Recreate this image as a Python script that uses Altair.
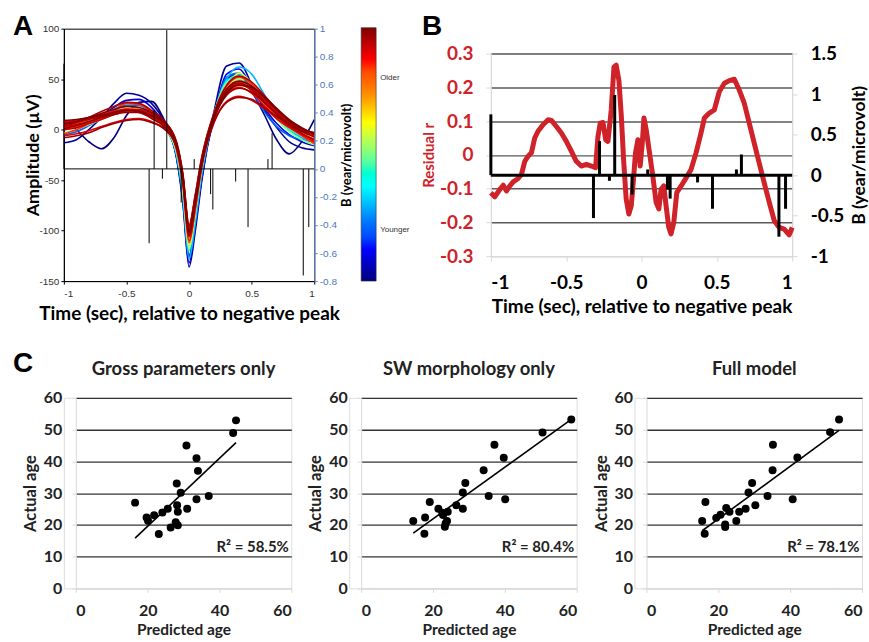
import altair as alt
import pandas as pd

# ---------------- Panel A : waveforms ----------------
A_TIMES = [-1.0, -0.9, -0.8, -0.7, -0.6, -0.5, -0.4, -0.3, -0.2, -0.1, -0.05, 0.0,
           0.05, 0.1, 0.2, 0.3, 0.4, 0.5, 0.6, 0.7, 0.8, 0.9, 1.0]
WAVE_AGES = [15, 16, 19, 23, 27, 31, 35, 38, 42, 47, 48, 49, 50, 51, 52, 53, 54, 55, 51, 53, 55, 49, 54, 52]
WAVE_01 = [10, 0, -12, -19, -8, 14, 27, 28, 10, -22, -62, -125, -88, -45, 12, 50, 55, 38, 15, -10, -24, -12, 10]
WAVE_02 = [-13, -10, 0, 12, 26, 36, 34, 26, 8, -28, -72, -136, -100, -52, 18, 63, 66, 45, 20, 2, -12, -18, -20]
WAVE_03 = [5, 3, 6, 13, 22, 29, 30, 22, 5, -28, -70, -132, -95, -50, 14, 55, 60, 42, 22, 6, -5, -12, -16]
WAVE_04 = [-5, -2, 4, 11, 19, 24, 24, 17, 3, -26, -66, -126, -90, -46, 14, 52, 56, 38, 18, 3, -6, -10, -12]
WAVE_05 = [0, 3, 8, 14, 20, 26, 25, 18, 5, -25, -65, -128, -92, -45, 15, 50, 62, 55, 35, 15, 0, -8, -12]
WAVE_06 = [3, 5, 9, 14, 19, 23, 22, 15, 3, -24, -62, -120, -85, -40, 16, 48, 54, 44, 28, 12, 0, -6, -10]
WAVE_07 = [-3, 0, 5, 10, 15, 19, 20, 14, 4, -20, -56, -115, -80, -38, 16, 46, 50, 40, 25, 10, -2, -10, -15]
WAVE_08 = [6, 7, 9, 12, 16, 20, 18, 12, 2, -22, -58, -118, -82, -40, 12, 40, 56, 46, 30, 14, 2, -4, -6]
WAVE_09 = [2, 5, 9, 13, 17, 20, 19, 14, 5, -18, -52, -108, -76, -36, 14, 42, 48, 40, 27, 13, 2, -5, -10]
WAVE_10 = [4, 6, 10, 14, 18, 21, 20, 15, 6, -17, -50, -105, -72, -34, 14, 40, 46, 39, 26, 13, 3, -4, -9]
WAVE_11 = [0, 3, 7, 11, 15, 18, 18, 13, 5, -16, -48, -100, -70, -32, 12, 36, 44, 40, 30, 17, 6, -2, -6]
WAVE_12 = [-4, 0, 6, 12, 19, 26, 25, 18, 6, -20, -54, -112, -79, -37, 14, 43, 52, 45, 30, 15, 3, -6, -14]
WAVE_13 = [8, 9, 11, 13, 16, 19, 17, 12, 4, -19, -52, -110, -78, -38, 10, 35, 42, 36, 24, 11, 2, -5, -12]
WAVE_14 = [-6, -4, -1, 3, 7, 10, 11, 8, 1, -15, -46, -96, -66, -30, 8, 28, 33, 29, 21, 11, 3, -4, -10]
WAVE_15 = [3, 5, 8, 12, 16, 19, 19, 14, 6, -14, -45, -98, -68, -31, 14, 38, 45, 41, 31, 19, 8, 0, -5]
WAVE_16 = [5, 7, 10, 13, 17, 20, 19, 13, 5, -18, -50, -104, -73, -35, 12, 38, 46, 40, 28, 15, 4, -4, -10]
WAVE_17 = [1, 4, 8, 12, 15, 17, 17, 11, 3, -17, -48, -102, -70, -33, 11, 34, 41, 37, 27, 16, 6, -1, -4]
WAVE_18 = [6, 8, 12, 16, 20, 23, 22, 17, 8, -15, -47, -100, -69, -32, 15, 40, 48, 43, 32, 20, 9, 1, -3]
WAVE_19 = [7, 9, 12, 15, 18, 20, 18, 13, 6, -16, -49, -103, -71, -34, 13, 39, 45, 39, 27, 15, 5, -2, -7]
WAVE_20 = [3, 7, 12, 18, 23, 27, 26, 19, 9, -13, -44, -95, -65, -29, 17, 44, 53, 47, 34, 20, 8, 1, -3]
WAVE_21 = [9, 10, 12, 14, 17, 19, 18, 14, 7, -15, -47, -101, -71, -34, 12, 36, 44, 42, 33, 21, 10, 2, -4]
WAVE_22 = [2, 4, 7, 11, 15, 18, 19, 15, 7, -14, -46, -99, -69, -32, 13, 37, 47, 44, 33, 20, 8, 0, -6]
WAVE_23 = [-8, -6, -3, 2, 6, 9, 10, 7, 1, -18, -50, -106, -74, -36, 7, 27, 32, 30, 22, 13, 5, -2, -7]
WAVE_24 = [0, 2, 6, 10, 15, 19, 20, 16, 8, -12, -43, -94, -64, -28, 16, 40, 46, 41, 30, 18, 7, 0, -5]
WAVES = [WAVE_01, WAVE_02, WAVE_03, WAVE_04, WAVE_05, WAVE_06, WAVE_07, WAVE_08, WAVE_09,
         WAVE_10, WAVE_11, WAVE_12, WAVE_13, WAVE_14, WAVE_15, WAVE_16, WAVE_17, WAVE_18,
         WAVE_19, WAVE_20, WAVE_21, WAVE_22, WAVE_23, WAVE_24]

# regression coefficients (stems), shared by panels A and B
STEM_T = [-1.0, -0.319, -0.279, -0.213, -0.178, -0.063, 0.041, 0.172, 0.19, 0.372, 0.471, 0.63, 0.663, 0.912, 0.956]
STEM_B = [0.75, -0.53, 0.42, -0.07, 0.99, -0.24, 0.07, -0.18, -0.29, -0.09, -0.415, 0.07, 0.255, -0.76, -0.415]

# ---------------- Panel B : residual r ----------------
R_T = [-1.0, -0.974, -0.94, -0.918, -0.896, -0.874, -0.852, -0.819, -0.797, -0.775, -0.753, -0.731,
       -0.709, -0.687, -0.654, -0.62, -0.598, -0.565, -0.532, -0.499, -0.466, -0.433, -0.4, -0.366,
       -0.333, -0.305, -0.289, -0.274, -0.256, -0.238, -0.223, -0.201, -0.183, -0.168, -0.15, -0.134,
       -0.119, -0.102, -0.084, -0.068, -0.053, -0.04, -0.024, -0.009, 0.005, 0.016, 0.031, 0.053,
       0.075, 0.097, 0.115, 0.13, 0.148, 0.163, 0.181, 0.196, 0.214, 0.234, 0.263, 0.296, 0.329,
       0.362, 0.395, 0.417, 0.45, 0.483, 0.516, 0.55, 0.583, 0.616, 0.649, 0.682, 0.715, 0.748,
       0.781, 0.814, 0.848, 0.881, 0.914, 0.947, 0.98, 1.0]
R_VAL = [-0.112, -0.124, -0.102, -0.09, -0.107, -0.092, -0.08, -0.07, -0.058, -0.019, -0.004, 0.006,
         0.05, 0.07, 0.089, 0.104, 0.102, 0.084, 0.065, 0.04, 0.011, -0.019, -0.033, -0.028,
         -0.033, -0.038, 0.055, 0.094, 0.096, 0.045, 0.04, 0.133, 0.26, 0.266, 0.22, 0.114,
         -0.014, -0.13, -0.175, -0.15, -0.07, 0.006, 0.045, -0.033, 0.035, 0.109, 0.075, 0.006,
         -0.063, -0.141, -0.16, -0.102, -0.092, -0.151, -0.215, -0.234, -0.2, -0.112, -0.092, -0.068, -0.043,
         0.006, 0.065, 0.109, 0.124, 0.133, 0.187, 0.212, 0.22, 0.224, 0.192, 0.153, 0.094, 0.035,
         -0.024, -0.082, -0.141, -0.195, -0.215, -0.22, -0.237, -0.215]

# ---------------- Panel C : predicted vs actual age ----------------
C1_PRED = [16.5, 19.7, 20.1, 21.8, 23.1, 24.1, 25.6, 26.4, 27.8, 28.4, 28.1, 28.2, 28.4, 29.2, 31.0, 30.8, 33.6, 33.6, 34.0, 37.0, 43.8, 44.6]
C1_ACT = [27.0, 22.3, 21.3, 23.0, 17.1, 23.9, 25.1, 19.2, 20.8, 19.9, 33.0, 26.2, 24.1, 30.1, 25.1, 45.0, 28.1, 41.0, 37.0, 29.1, 48.9, 52.9]
C2_PRED = [14.5, 17.8, 17.6, 19.1, 21.5, 22.6, 22.8, 24.1, 23.9, 23.3, 23.5, 26.5, 28.3, 28.3, 29.0, 34.1, 35.5, 37.1, 39.7, 40.1, 50.5, 58.5]
C2_ACT = [21.2, 22.3, 17.2, 27.2, 25.1, 23.8, 23.1, 24.1, 21.2, 19.4, 20.4, 26.2, 25.1, 30.2, 33.2, 37.2, 29.1, 45.2, 41.1, 28.1, 49.1, 53.2]
C3_PRED = [15.5, 16.4, 16.2, 19.4, 20.6, 22.2, 23.1, 21.9, 21.9, 25.0, 25.8, 27.6, 30.3, 28.4, 29.4, 33.7, 35.1, 35.2, 40.7, 42.0, 51.1, 53.6]
C3_ACT = [21.2, 27.2, 17.2, 22.2, 23.2, 25.3, 24.1, 20.1, 19.3, 21.2, 24.1, 25.1, 26.2, 30.2, 33.2, 29.1, 37.2, 45.2, 28.1, 41.2, 49.2, 53.2]
C_TITLES = ["Gross parameters only", "SW morphology only", "Full model"]
C_R2 = ["R\u00b2 = 58.5%", "R\u00b2 = 80.4%", "R\u00b2 = 78.1%"]

PANEL_LETTERS = ["A", "B", "C"]

JET = ["#00007f", "#0000ff", "#007fff", "#00ffff", "#7fff7f", "#ffff00", "#ff7f00", "#ff0000", "#7f0000"]
JET_DOMAIN = [15, 20, 25, 30, 35, 40, 45, 50, 55]

CAL = "Lato"
ARIAL = "Liberation Sans"
RED = "#cf2229"
LIGHT = "#d9d9d9"
DARK = "#5a5a5a"

# ---------- tables ----------
rows = []
for i, (age, vals) in enumerate(zip(WAVE_AGES, WAVES)):
    for t, v in zip(A_TIMES, vals):
        rows.append({"wave": f"w{i:02d}", "age": age, "t": t, "uv": v})
waves_df = pd.DataFrame(rows).sort_values(["age", "wave", "t"]).reset_index(drop=True)

rule_df = pd.DataFrame({
    "x": STEM_T + [-1.0],
    "x2": STEM_T + [1.0],
    "y": STEM_B + [0.0],
    "y2": [0.0] * len(STEM_T) + [0.0],
})
r_df = pd.DataFrame({"t": R_T, "r": R_VAL})


def text_layer(s, px, py, size, font, align="left", color="black"):
    return alt.Chart(pd.DataFrame({"s": [s]})).mark_text(
        align=align, baseline="alphabetic", font=font, fontSize=size, fontWeight="bold", color=color
    ).encode(x=alt.value(px), y=alt.value(py), text="s:N")


# ---------------- Panel A ----------------
xsA = alt.Scale(domain=[-1, 1], nice=False, zero=False)
axA_x = alt.Axis(values=[-1, -0.5, 0, 0.5, 1], labelExpr="'' + datum.value",
                 title="Time (sec), relative to negative peak", titleFont=CAL, titleFontSize=19,
                 titleFontWeight="bold", titleColor="black", titlePadding=6,
                 labelFont=ARIAL, labelFontSize=10, labelColor="#333", labelPadding=4,
                 tickColor="black", tickSize=3, domainColor="black", grid=False)

waves = alt.Chart(waves_df).mark_line(strokeWidth=1.6, interpolate="monotone", clip=True).encode(
    x=alt.X("t:Q", scale=xsA, axis=axA_x),
    y=alt.Y("uv:Q", scale=alt.Scale(domain=[-150, 100], nice=False),
            axis=alt.Axis(orient="left", values=[-150, -100, -50, 0, 50, 100], labelExpr="'' + datum.value",
                          title="Amplitude (\u00b5V)", titleFont=CAL, titleFontSize=18, titleFontWeight="bold",
                          titleColor="black", titlePadding=-4, labelFont=ARIAL, labelFontSize=10,
                          labelColor="#333", labelPadding=2, tickColor="black", tickSize=3,
                          domainColor="black", grid=False)),
    color=alt.Color("age:Q", scale=alt.Scale(domain=JET_DOMAIN, range=JET),
                    legend=alt.Legend(orient="none", legendX=298, legendY=-1, direction="vertical",
                                      title=None, gradientLength=254, gradientThickness=15,
                                      gradientStrokeColor="#333", gradientStrokeWidth=0.6,
                                      values=[23, 47], labelExpr="datum.value > 35 ? 'Older' : 'Younger'",
                                      labelFont=ARIAL, labelFontSize=8, labelColor="#333", labelOffset=4)),
    detail="wave:N",
)

rulesA = alt.Chart(rule_df).mark_rule(color="black", strokeWidth=1).encode(
    x=alt.X("x:Q", scale=xsA, axis=axA_x),
    x2="x2:Q",
    y=alt.Y("y:Q", scale=alt.Scale(domain=[-0.8, 1], nice=False),
            axis=alt.Axis(orient="right", values=[-0.8, -0.6, -0.4, -0.2, 0, 0.2, 0.4, 0.6, 0.8, 1],
                          labelExpr="'' + datum.value", title="B (year/microvolt)", titleFont=CAL,
                          titleFontSize=13, titleFontWeight="bold", titleColor="black", titleAngle=270,
                          titleBaseline="top", titlePadding=4, labelFont=ARIAL, labelFontSize=10,
                          labelColor="#4a78c0", labelPadding=2, tickColor="#5a86c8", tickSize=3,
                          domainColor="#5a86c8", grid=False)),
    y2="y2:Q",
)

chartA = alt.layer(waves, rulesA, text_layer(PANEL_LETTERS[0], -51, 6, 28, ARIAL)).resolve_scale(
    y="independent").properties(
    width=251, height=253, view=alt.ViewBackground(stroke="black", strokeWidth=1))

# ---------------- Panel B ----------------
xsB = alt.Scale(domain=[-1, 1], nice=False, zero=False)
axB_x = alt.Axis(values=[-1, -0.5, 0, 0.5, 1], labelExpr="'' + datum.value",
                 title="Time (sec), relative to negative peak", titleFont=CAL, titleFontSize=19,
                 titleFontWeight="bold", titleColor="black", titlePadding=5,
                 labelFont=CAL, labelFontSize=19, labelFontWeight="bold", labelColor="black",
                 labelPadding=12, tickColor=LIGHT, tickSize=5, domainColor=LIGHT, grid=False)

redB = alt.Chart(r_df).mark_line(color=RED, strokeWidth=5, strokeJoin="round").encode(
    x=alt.X("t:Q", scale=xsB, axis=axB_x),
    y=alt.Y("r:Q", scale=alt.Scale(domain=[-0.3, 0.3], nice=False),
            axis=alt.Axis(orient="left", values=[-0.3, -0.2, -0.1, 0, 0.1, 0.2, 0.3],
                          labelExpr="'' + datum.value", title="Residual r", titleFont=CAL,
                          titleFontSize=15, titleFontWeight="bold", titleColor=RED, titlePadding=3,
                          labelFont=CAL, labelFontSize=19, labelFontWeight="bold", labelColor=RED,
                          labelPadding=13, tickColor=LIGHT, tickSize=5, domainColor=LIGHT,
                          grid=True, gridWidth=1.5,
                          gridColor={"condition": {"test": "datum.value < -0.25", "value": LIGHT},
                                     "value": DARK})),
)

rulesB = alt.Chart(rule_df).mark_rule(color="black", strokeWidth=3).encode(
    x=alt.X("x:Q", scale=xsB, axis=axB_x),
    x2="x2:Q",
    y=alt.Y("y:Q", scale=alt.Scale(domain=[-1, 1.5], nice=False),
            axis=alt.Axis(orient="right", values=[-1, -0.5, 0, 0.5, 1, 1.5], labelExpr="'' + datum.value",
                          title="B (year/microvolt)", titleFont=CAL, titleFontSize=17.5, titleFontWeight="bold",
                          titleColor="black", titleAngle=270, titleBaseline="top", titlePadding=7,
                          labelFont=CAL, labelFontSize=19, labelFontWeight="bold", labelColor="black",
                          labelPadding=13, tickColor=LIGHT, tickSize=5, domainColor=LIGHT, grid=False)),
    y2="y2:Q",
)

chartB = alt.layer(redB, rulesB, text_layer(PANEL_LETTERS[1], -69, -19, 28, ARIAL)).resolve_scale(
    y="independent").properties(width=302, height=203)

# ---------------- Panel C ----------------
C_INSET = 12          # plot area starts this far right of the cell origin
C_W = 216
C_H = 191


def panel_c(title, pred, act, r2, with_letter=False):
    df = pd.DataFrame({"pred": pred, "act": act})
    xs = alt.Scale(domain=[0, 60], nice=False, range=[C_INSET, C_INSET + C_W])
    ys = alt.Scale(domain=[0, 60], nice=False)
    ax_x = alt.Axis(values=[0, 20, 40, 60], title="Predicted age", titleFont=CAL, titleFontSize=15.5,
                    titleFontWeight="bold", titleColor="#222", titlePadding=4,
                    labelFont=CAL, labelFontSize=16, labelFontWeight="bold", labelColor="#222",
                    labelPadding=10, tickColor=LIGHT, tickSize=4, domainColor=LIGHT, grid=False)
    ax_y = alt.Axis(values=[0, 10, 20, 30, 40, 50, 60], title="Actual age", titleFont=CAL, titleFontSize=16.5,
                    titleFontWeight="bold", titleColor="#222", titlePadding=5, offset=-C_INSET,
                    labelFont=CAL, labelFontSize=16, labelFontWeight="bold", labelColor="#222",
                    labelPadding=10, tickColor=LIGHT, tickSize=4, domainColor=LIGHT,
                    grid=True, gridWidth=1.3,
                    gridColor={"condition": {"test": "datum.value < 5", "value": LIGHT}, "value": "#333"})
    base = alt.Chart(df)
    pts = base.mark_circle(size=64, color="black", opacity=1).encode(
        x=alt.X("pred:Q", scale=xs, axis=ax_x), y=alt.Y("act:Q", scale=ys, axis=ax_y))
    fit = base.transform_regression("pred", "act").mark_line(color="black", strokeWidth=1.6).encode(
        x=alt.X("pred:Q", scale=xs, axis=ax_x), y=alt.Y("act:Q", scale=ys, axis=ax_y))
    txt = alt.Chart(pd.DataFrame({"pred": [59.3], "act": [11.6], "s": [r2]})).mark_text(
        align="right", baseline="alphabetic", font=CAL, fontSize=15, fontWeight="bold", color="#222"
    ).encode(x=alt.X("pred:Q", scale=xs, axis=ax_x), y=alt.Y("act:Q", scale=ys, axis=ax_y), text="s:N")
    head = text_layer(title, C_INSET + C_W / 2, -23, 18.5, CAL, align="center", color="#222")
    layers = [pts, fit, txt, head]
    if with_letter:
        layers.append(text_layer(PANEL_LETTERS[2], -51, -26, 28, ARIAL))
    return alt.layer(*layers).properties(width=C_INSET + C_W, height=C_H)


c1 = panel_c(C_TITLES[0], C1_PRED, C1_ACT, C_R2[0], with_letter=True)
c2 = panel_c(C_TITLES[1], C2_PRED, C2_ACT, C_R2[1])
c3 = panel_c(C_TITLES[2], C3_PRED, C3_ACT, C_R2[2])

top = alt.hconcat(chartA, chartB, spacing=177, bounds="flush", center=True)
bottom = alt.hconcat(c1, c2, c3, spacing=58, bounds="flush")

chart = alt.concat(top, bottom, columns=1, spacing=25).properties(
    padding={"left": 12, "top": 11, "right": 0, "bottom": 0},
    background="white",
).configure_view(stroke=None).configure(font=CAL)

chart.save("out.html", embed_options={"renderer": "svg", "actions": False})
